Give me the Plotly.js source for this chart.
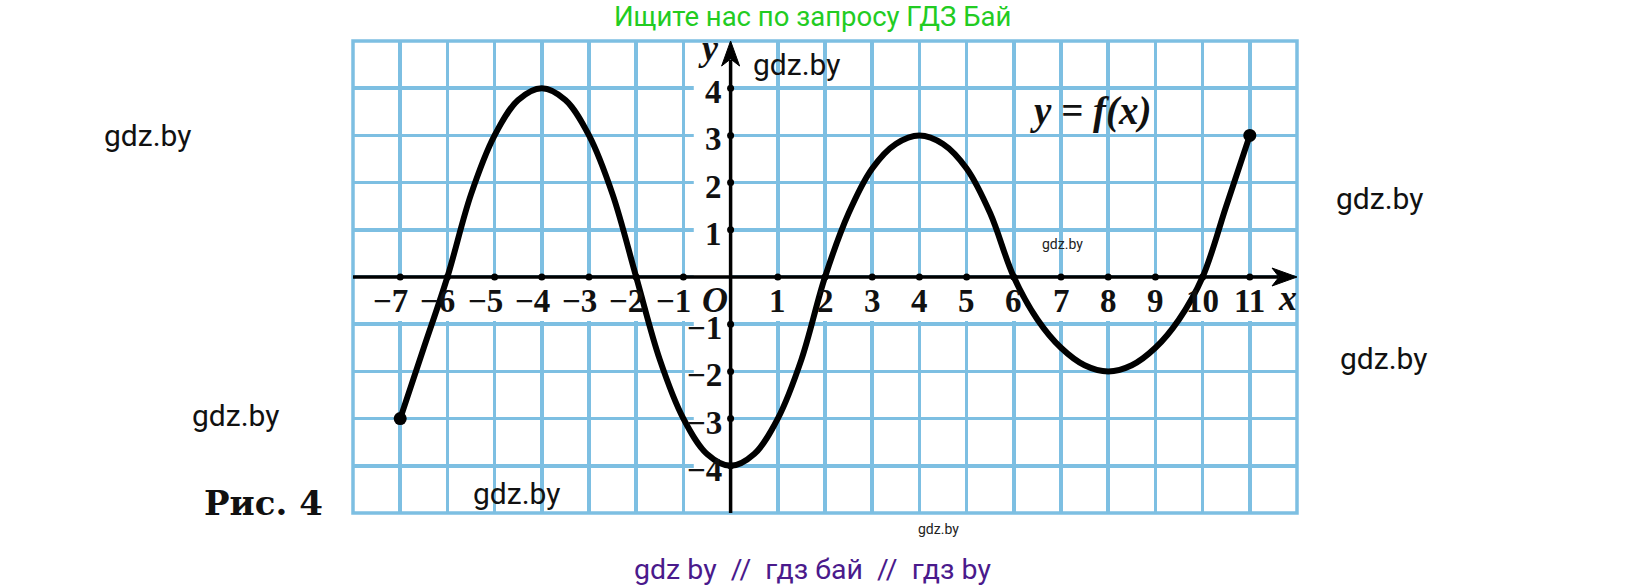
<!DOCTYPE html>
<html>
<head>
<meta charset="utf-8">
<script src="https://cdn.plot.ly/plotly-3.0.1.min.js"></script>
<style>html,body{margin:0;padding:0;background:#fff;}#chart{width:1627px;height:588px;}</style>
</head>
<body>
<div id="chart"></div>
<script>
// ---- data ----
const curveX = [-7, -6.5, -6, -5.5, -5, -4.5, -4, -3.5, -3, -2.5, -2, -1.5, -1, -0.5, 0, 0.5, 1, 1.5, 2, 2.5, 3, 3.5, 4, 4.5, 5, 5.5, 6, 6.5, 7, 7.5, 8, 8.5, 9, 9.5, 10, 10.5, 11];
const curveY = [-3, -1.5, 0, 1.75, 3, 3.75, 4, 3.75, 3, 1.75, 0, -1.75, -3, -3.75, -4, -3.75, -3, -1.75, 0, 1.35, 2.3, 2.82, 3, 2.82, 2.3, 1.35, 0, -0.9, -1.5, -1.87, -2, -1.87, -1.5, -0.9, 0, 1.5, 3];
const endX = [-7, 11];
const endY = [-3, 3];
const xTickVals = [-7, -6, -5, -4, -3, -2, -1, 1, 2, 3, 4, 5, 6, 7, 8, 9, 10, 11];
const yTickVals = [-4, -3, -2, -1, 1, 2, 3, 4];
const xRange = [-8, 12];
const yRange = [-5, 5];
const curveLabel = 'y = f(x)';
const figCaption = 'Рис. 4';
const topText = 'Ищите нас по запросу ГДЗ Бай';
const bottomText = 'gdz by\u00a0\u00a0//\u00a0\u00a0гдз бай\u00a0\u00a0//\u00a0\u00a0гдз by';
const watermark = 'gdz.by';

// ---- layout helpers ----
const W = 1627, H = 588;
const M = {l: 353, r: 330, t: 41, b: 75};
const PW = W - M.l - M.r, PH = H - M.t - M.b;
const px = v => (v - M.l) / PW;
const py = v => (H - M.b - v) / PH;
const GRID = '#7dbfe2';
const minus = v => (v < 0 ? '\u2212' + Math.abs(v) : String(v));

const tickFont = {family: 'Liberation Serif', size: 33, color: '#111', weight: 'bold'};
const italicFont = {family: 'Liberation Serif', size: 36, color: '#111', weight: 'bold', style: 'italic'};

const annotations = [];
xTickVals.forEach(v => {
  annotations.push({x: v, y: 0, xref: 'x', yref: 'y', text: minus(v), showarrow: false,
    xanchor: v < 0 ? 'right' : 'center', xshift: v < 0 ? 9 : 0, yanchor: 'middle', yshift: -24,
    font: tickFont, borderpad: 0});
});
yTickVals.forEach(v => {
  annotations.push({x: 0, y: v, xref: 'x', yref: 'y', text: minus(v), showarrow: false,
    xanchor: 'right', xshift: -8, yanchor: 'middle', yshift: -4, font: tickFont, borderpad: 0});
});
const addPx = (text, x, y, font, xanchor) => annotations.push({x: px(x), y: py(y), xref: 'paper', yref: 'paper',
  text: text, showarrow: false, xanchor: xanchor || 'center', yanchor: 'middle', font: font, borderpad: 0});

addPx('O', 701, 300, {family: 'Liberation Serif', size: 36, color: '#111', weight: 'bold', style: 'italic'}, 'left');
addPx('x', 1287, 298, italicFont);
addPx('y', 708, 48, italicFont);
addPx(curveLabel, 1091, 111, {family: 'Liberation Serif', size: 39, color: '#111', weight: 'bold', style: 'italic'});
addPx(figCaption, 263, 503, {family: 'DejaVu Serif', size: 34, color: '#111', weight: 'bold'});
addPx(topText, 812, 16, {family: 'Roboto', size: 27.5, color: '#22cc22'});
addPx(bottomText, 812, 569, {family: 'Roboto', size: 28.5, color: '#4a1a8c'});
const wmBig = {family: 'Roboto', size: 30, color: '#111'};
const wmSmall = {family: 'Roboto', size: 14, color: '#222'};
[[796, 65], [147, 135], [1379, 198], [1383, 358], [235, 415], [516, 493]].forEach(p => addPx(watermark, p[0], p[1], wmBig));
[[1062, 244], [938, 529]].forEach(p => addPx(watermark, p[0], p[1], wmSmall));

const shapes = [
  // white label band under the x axis
  {type: 'rect', xref: 'x', yref: 'y', x0: -7.95, x1: 11.95, y0: -0.93, y1: 0, fillcolor: '#fff', line: {width: 0}, layer: 'between'},
  // white label column left of the y axis
  {type: 'rect', xref: 'x', yref: 'y', x0: -0.78, x1: 0, y0: -4.95, y1: 4.95, fillcolor: '#fff', line: {width: 0}, layer: 'between'},
  // border
  {type: 'rect', xref: 'paper', yref: 'paper', x0: 0, x1: 1, y0: 0, y1: 1, line: {color: GRID, width: 3.5}, layer: 'between'},
  // axes
  {type: 'line', xref: 'x', yref: 'y', x0: -8, x1: 11.6, y0: 0, y1: 0, line: {color: '#000', width: 3.5}, layer: 'between'},
  {type: 'line', xref: 'x', yref: 'y', x0: 0, x1: 0, y0: -5, y1: 4.6, line: {color: '#000', width: 3.5}, layer: 'between'},
  {type: 'path', xref: 'x', yref: 'y', xsizemode: 'pixel', ysizemode: 'pixel', xanchor: 12, yanchor: 0,
    path: 'M 0 0 L -25 9 L -18 0 L -25 -9 Z', fillcolor: '#000', line: {color: '#000', width: 1}, layer: 'between'},
  {type: 'path', xref: 'x', yref: 'y', xsizemode: 'pixel', ysizemode: 'pixel', xanchor: 0, yanchor: 5,
    path: 'M 0 0 L -9 -25 L 0 -18 L 9 -25 Z', fillcolor: '#000', line: {color: '#000', width: 1}, layer: 'between'}
];

const traces = [
  {x: xTickVals, y: xTickVals.map(() => 0), mode: 'markers', marker: {color: '#000', size: 7}, hoverinfo: 'skip', cliponaxis: false},
  {x: yTickVals.map(() => 0), y: yTickVals, mode: 'markers', marker: {color: '#000', size: 7}, hoverinfo: 'skip', cliponaxis: false},
  {x: curveX, y: curveY, mode: 'lines', line: {color: '#000', width: 6, shape: 'spline', smoothing: 1}, hoverinfo: 'skip'},
  {x: endX, y: endY, mode: 'markers', marker: {color: '#000', size: 13}, hoverinfo: 'skip', cliponaxis: false}
];

const layout = {
  width: W, height: H, margin: M, showlegend: false,
  paper_bgcolor: '#fff', plot_bgcolor: '#fff',
  xaxis: {range: xRange, dtick: 1, tick0: 0, showgrid: true, gridcolor: GRID, gridwidth: 3.5, zeroline: false,
    showticklabels: false, ticks: '', showline: false, fixedrange: true},
  yaxis: {range: yRange, dtick: 1, tick0: 0, showgrid: true, gridcolor: GRID, gridwidth: 3.5, zeroline: false,
    showticklabels: false, ticks: '', showline: false, fixedrange: true},
  shapes: shapes, annotations: annotations
};
Plotly.newPlot('chart', traces, layout, {displayModeBar: false, staticPlot: true});
</script>
</body>
</html>
